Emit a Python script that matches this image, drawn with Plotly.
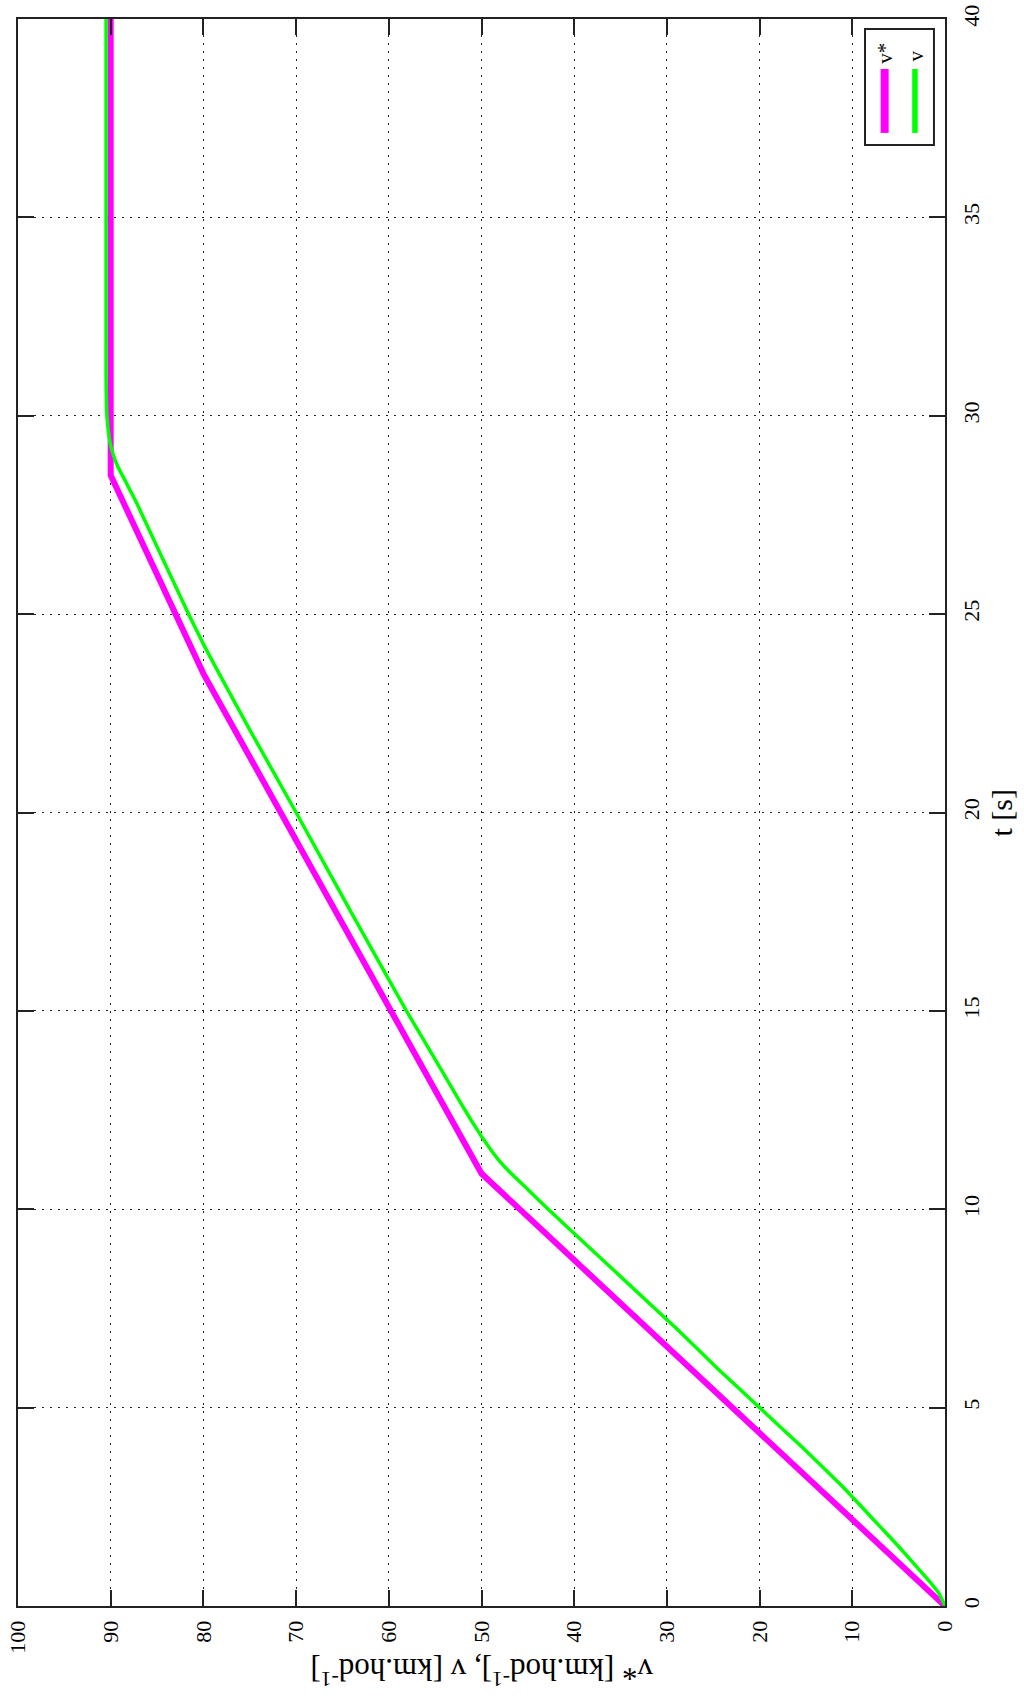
import plotly.graph_objects as go

# --- data ---
t_ref = [0, 10.9, 23.5, 28.5, 40]
v_ref = [0, 50, 80, 90, 90]

t_act = [0, 0.3, 0.6, 1, 1.5, 2, 2.5, 3, 4, 5, 6, 7, 8, 9, 10, 10.5, 10.9, 11.2, 11.5,
         11.8, 12.2, 12.7, 13.5, 15, 17.5, 20, 22, 23.5, 24.2, 25, 26, 27, 27.8, 28.3,
         28.7, 29.0, 29.3, 29.7, 30.2, 31, 32, 40]
v_act = [0, 0.6, 1.6, 3.1, 5.0, 7.0, 9.0, 11.0, 15.4, 20, 24.6, 29, 33.6, 38.2, 42.8,
         45, 46.8, 48.0, 49.0, 49.9, 51.0, 52.3, 54.3, 58.1, 64.1, 70.0, 74.8, 78.3,
         79.9, 81.6, 83.6, 85.6, 87.2, 88.3, 89.2, 89.7, 90.05, 90.3, 90.45, 90.5,
         90.5, 90.5]

v_ticks = list(range(0, 101, 10))
t_ticks = list(range(0, 41, 5))

MAG = "#FF00FF"
GRN = "#00FF00"
FONT = "Liberation Serif"

fig = go.Figure()
fig.add_trace(go.Scatter(x=v_ref, y=t_ref, mode="lines", name="v*",
                         line=dict(color=MAG, width=6)))
fig.add_trace(go.Scatter(x=v_act, y=t_act, mode="lines", name="v",
                         line=dict(color=GRN, width=3.5, shape="spline", smoothing=0.3)))

fig.update_layout(
    width=1024, height=1708,
    margin=dict(l=18, r=79, t=19, b=102),
    paper_bgcolor="white", plot_bgcolor="white",
    showlegend=False,
    font=dict(family=FONT, color="black"),
)

fig.update_xaxes(
    range=[100, 0], tickmode="array", tickvals=v_ticks,
    ticktext=[str(v) for v in v_ticks], tickangle=-90,
    tickfont=dict(family=FONT, size=22, color="black"),
    ticks="inside", ticklen=16, tickcolor="#222", tickwidth=1.5,
    showline=True, linecolor="#222", linewidth=2, mirror="ticks",
    showgrid=True, gridcolor="#222", gridwidth=1, griddash="2px,6px",
    zeroline=False, ticklabelstandoff=4, ticklabeloverflow="allow",
    automargin=False,
)
fig.update_yaxes(
    range=[0, 40], side="right", tickmode="array", tickvals=t_ticks,
    ticktext=[str(t) for t in t_ticks], tickangle=-90,
    tickfont=dict(family=FONT, size=22, color="black"),
    ticks="inside", ticklen=16, tickcolor="#222", tickwidth=1.5,
    showline=True, linecolor="#222", linewidth=2, mirror="ticks",
    showgrid=True, gridcolor="#222", gridwidth=1, griddash="2px,6px",
    zeroline=False, ticklabelstandoff=6, ticklabeloverflow="allow",
    automargin=False,
)

# axis titles (rotated like the reference)
fig.add_annotation(text="t [s]", xref="paper", yref="paper", x=1, y=0.5,
                   xanchor="center", yanchor="middle", xshift=56, textangle=-90,
                   showarrow=False, font=dict(family=FONT, size=30, color="black"))
fig.add_annotation(text="v* [km.hod<sup>-1</sup>], v [km.hod<sup>-1</sup>]",
                   xref="paper", yref="paper", x=0.5, y=0,
                   xanchor="center", yanchor="middle", yshift=-66, textangle=180,
                   showarrow=False, font=dict(family=FONT, size=31, color="black"))

# legend box (drawn manually, rotated)
fig.add_shape(type="rect", xref="paper", yref="paper", x0=0.9137, x1=0.9881,
              y0=0.9206, y1=0.9937, line=dict(color="#222", width=2),
              fillcolor="white", layer="above")
fig.add_shape(type="line", xref="paper", yref="paper", x0=0.9349, x1=0.9349,
              y0=0.9282, y1=0.9685, line=dict(color=MAG, width=8), layer="above")
fig.add_shape(type="line", xref="paper", yref="paper", x0=0.9676, x1=0.9676,
              y0=0.9282, y1=0.9685, line=dict(color=GRN, width=5.5), layer="above")
fig.add_annotation(text="v*", xref="paper", yref="paper", x=0.9349, y=0.9785,
                   xanchor="center", yanchor="middle", textangle=-90, showarrow=False,
                   font=dict(family=FONT, size=21, color="black"))
fig.add_annotation(text="v", xref="paper", yref="paper", x=0.9690, y=0.9765,
                   xanchor="center", yanchor="middle", textangle=-90, showarrow=False,
                   font=dict(family=FONT, size=21, color="black"))

fig.write_html("out.html", config={"displayModeBar": False},
               post_script="document.body.style.margin='0';document.body.style.overflow='hidden';")
